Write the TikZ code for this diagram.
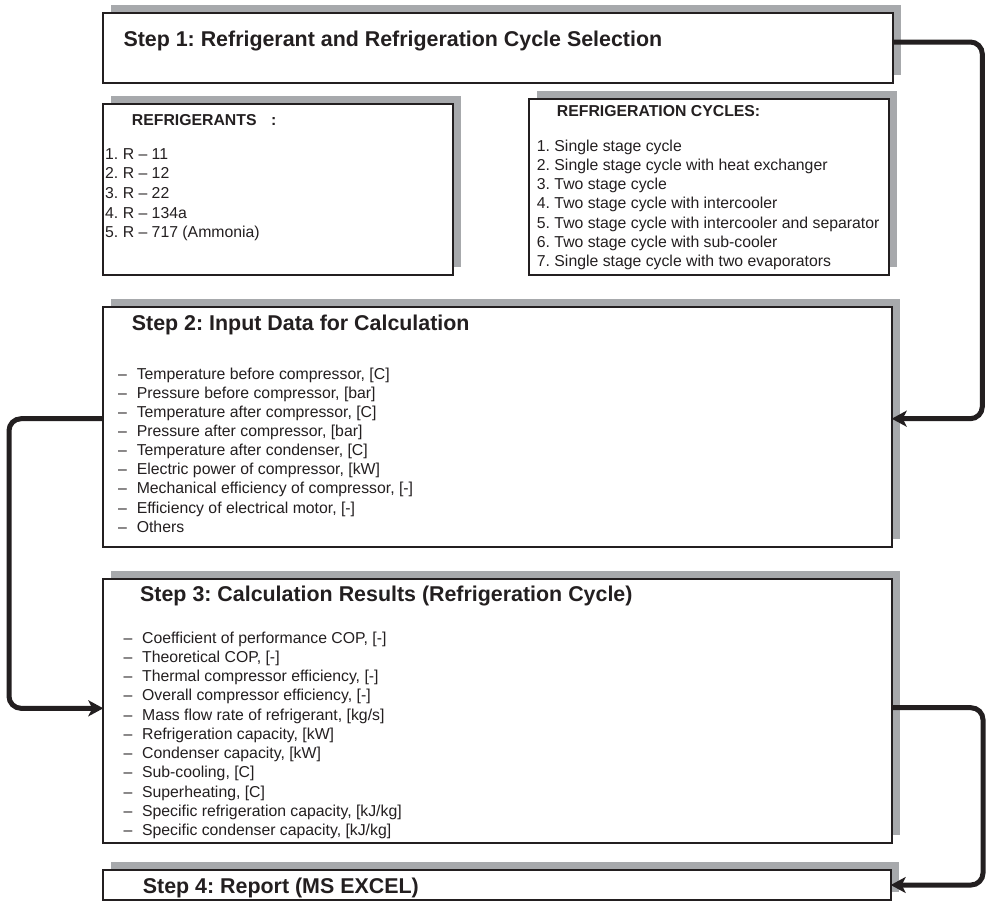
\documentclass[tikz,border=0pt]{standalone}
\usepackage{fontspec}
\setmainfont{Liberation Sans}
\usetikzlibrary{arrows.meta,shadows}

\definecolor{ink}{HTML}{231F20}
\definecolor{shade}{HTML}{A7A9AC}

\tikzset{
  box/.style={draw=ink, line width=2.2pt, fill=white, anchor=north west,
    inner sep=0pt, outer sep=0pt,
    general shadow={fill=shade, shadow xshift=8pt, shadow yshift=8pt}},
  title/.style={anchor=base west, inner sep=0pt, text=ink,
    font=\bfseries\fontsize{21.4}{24}\selectfont},
  head/.style={anchor=base west, inner sep=0pt, text=ink,
    font=\bfseries\fontsize{15.8}{19}\selectfont},
  item/.style={anchor=base west, inner sep=0pt, text=ink,
    font=\fontsize{15.8}{19}\selectfont},
  flow/.style={draw=ink, line width=5pt, rounded corners=12pt,
    -{Stealth[length=15pt,width=16pt,inset=4pt]}}
}
\newcommand{\itemdash}{\makebox[18.6pt][l]{–}}
\frenchspacing

\begin{document}
\begin{tikzpicture}[x=1pt, y=-1pt]
    \useasboundingbox (0,0) rectangle (988,902);

    % Cajas
    \node[box, minimum width=790pt, minimum height=70pt] (s1) at (103.3,12.7) {};
    \node[box, minimum width=350pt, minimum height=170.7pt] (ref) at (103.3,104.3) {};
    \node[box, minimum width=360.6pt, minimum height=176pt] (cyc) at (528.7,99) {};
    \node[box, minimum width=788.4pt, minimum height=240pt] (s2) at (103.3,306.7) {};
    \node[box, minimum width=789pt, minimum height=264pt] (s3) at (103.3,579.3) {};
    \node[box, minimum width=787.4pt, minimum height=30pt] (s4) at (103.3,870) {};

    % Titulos
    \node[title] (t1) at (123.3,46.7) {Step 1: Refrigerant and Refrigeration Cycle Selection};
    \node[title] (t2) at (131.7,330) {Step 2: Input Data for Calculation};
    \node[title] (t3) at (140,601.7) {Step 3: Calculation Results (Refrigeration Cycle)};
    \node[title] (t4) at (142.7,893.3) {Step 4: Report (MS EXCEL)};

    % Refrigerantes
    \node[head] (hr) at (131.7,125) {REFRIGERANTS\hspace{14.5pt}:};
    \foreach \txt [count=\i from 0] in {R – 11, R – 12, R – 22, R – 134a, R – 717 (Ammonia)}
        \node[item] (r\i) at (105,159.3+19.6*\i) {\the\numexpr\i+1\relax. \txt};

    % Ciclos
    \node[head] (hc) at (556.7,116.7) {REFRIGERATION CYCLES:};
    \foreach \txt [count=\i from 0] in {Single stage cycle,
        Single stage cycle with heat exchanger, Two stage cycle,
        Two stage cycle with intercooler,
        Two stage cycle with intercooler and separator,
        Two stage cycle with sub-cooler,
        Single stage cycle with two evaporators}
        \node[item] (c\i) at (536.7,151+19.3*\i) {\the\numexpr\i+1\relax. \txt};

    % Datos de entrada
    \foreach \txt [count=\i from 0] in {{Temperature before compressor, [C]},
        {Pressure before compressor, [bar]}, {Temperature after compressor, [C]},
        {Pressure after compressor, [bar]}, {Temperature after condenser, [C]},
        {Electric power of compressor, [kW]},
        {Mechanical efficiency of compressor, [-]},
        {Efficiency of electrical motor, [-]}, Others}
        \node[item] (in\i) at (118,379.3+19.1*\i) {\itemdash\txt};

    % Resultados
    \foreach \txt [count=\i from 0] in {{Coefficient of performance COP, [-]},
        {Theoretical COP, [-]}, {Thermal compressor efficiency, [-]},
        {Overall compressor efficiency, [-]},
        {Mass flow rate of refrigerant, [kg/s]},
        {Refrigeration capacity, [kW]}, {Condenser capacity, [kW]},
        {Sub-cooling, [C]}, {Superheating, [C]},
        {Specific refrigeration capacity, [kJ/kg]},
        {Specific condenser capacity, [kJ/kg]}}
        \node[item] (out\i) at (123.3,643.3+19.23*\i) {\itemdash\txt};

    % Flechas
    \draw[flow] ([yshift=5.7pt]s1.east) -- ++(89,0) |- ([yshift=8pt]s2.east);
    \draw[flow] ([yshift=8pt]s2.west) -- ++(-94.3,0) |- ([yshift=3pt]s3.west);
    \draw[flow] ([yshift=3.6pt]s3.east) -- ++(90.7,0) |- (s4.east);
\end{tikzpicture}
\end{document}
